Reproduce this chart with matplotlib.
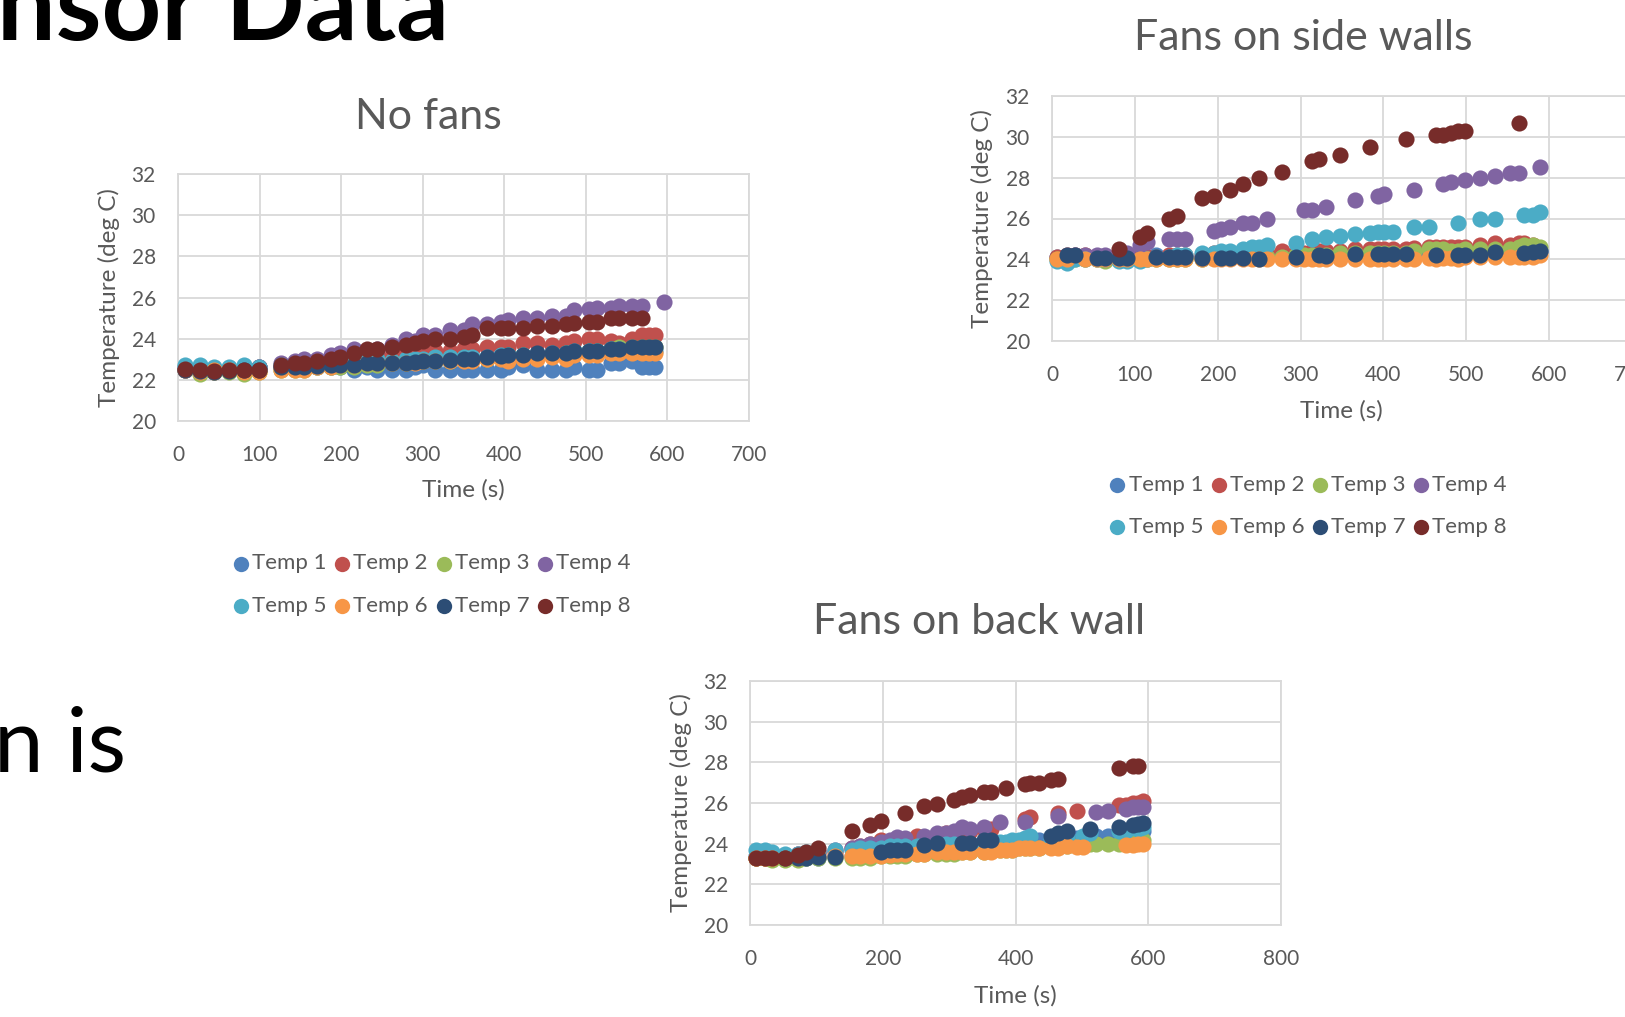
import numpy as np
import matplotlib
matplotlib.use('Agg')
from matplotlib import pyplot as plt

na = np.nan

names = ['Temp 1', 'Temp 2', 'Temp 3', 'Temp 4', 'Temp 5', 'Temp 6', 'Temp 7', 'Temp 8']
colors = ['#4F81BD', '#C0504D', '#9BBB59', '#8064A2', '#4BACC6', '#F79646', '#2C4D75', '#772C2A']

# ---------------- No fans ----------------
t_nofans = [8, 27, 44, 62, 81, 99, 126, 143, 154, 171, 188, 198, 216, 232, 244, 262, 280, 290, 300, 315,
            333, 350, 361, 379, 396, 404, 423, 440, 459, 476, 486, 504, 514, 531, 541, 557, 569, 578, 585, 596]
nofans_1 = [22.6, 22.6, 22.5, 22.5, 22.5, 22.6, 22.6, 22.6, 22.6, 22.6, 22.6, 22.6, 22.5, 22.6, 22.5, 22.5, 22.5, 22.6, 22.7, 22.5,
            22.5, 22.5, 22.5, 22.5, 22.5, 22.6, 22.7, 22.5, 22.5, 22.5, 22.6, 22.5, 22.5, 22.8, 22.8, 22.9, 22.6, 22.6, 22.6, na]
nofans_2 = [22.5, 22.5, 22.4, 22.5, 22.5, 22.6, 22.6, 22.7, 22.7, 22.8, 22.9, 23.0, 23.0, 23.2, 23.2, 23.2, 23.3, 23.3, 23.3, 23.4,
            23.4, 23.5, 23.5, 23.6, 23.6, 23.6, 23.8, 23.8, 23.7, 23.8, 23.9, 24.0, 24.0, 23.9, 23.8, 24.0, 24.2, 24.2, 24.2, na]
nofans_3 = [22.5, 22.3, 22.4, 22.4, 22.3, 22.4, 22.5, 22.5, 22.5, 22.6, 22.6, 22.6, 22.6, 22.7, 22.7, 22.8, 22.8, 22.9, 22.9, 22.9,
            22.9, 23.0, 23.0, 23.0, 23.1, 23.2, 23.2, 23.2, 23.2, 23.3, 23.3, 23.4, 23.4, 23.5, 23.6, 23.6, 23.6, 23.6, 23.6, na]
nofans_4 = [22.5, 22.5, 22.5, 22.5, 22.5, 22.6, 22.8, 22.9, 23.0, 23.0, 23.2, 23.3, 23.5, 23.4, 23.5, 23.7, 24.0, 23.9, 24.2, 24.2,
            24.4, 24.4, 24.7, 24.7, 24.8, 24.9, 25.0, 25.0, 25.1, 25.1, 25.4, 25.45, 25.5, 25.5, 25.6, 25.6, 25.6, na, na, 25.8]
nofans_5 = [22.7, 22.7, 22.6, 22.6, 22.7, 22.6, 22.7, 22.7, 22.7, 22.7, 22.8, 22.8, 22.9, 23.0, 23.0, 22.9, 23.0, 23.0, 23.0, 23.1,
            23.1, 23.1, 23.1, 23.1, 23.2, 23.2, 23.2, 23.2, 23.3, 23.3, 23.4, 23.4, 23.4, 23.5, 23.5, 23.5, 23.5, 23.4, 23.4, na]
nofans_6 = [22.5, 22.4, 22.5, 22.5, 22.4, 22.4, 22.5, 22.5, 22.5, 22.6, 22.6, 22.7, 22.7, 22.8, 22.8, 22.8, 22.8, 22.8, 22.9, 22.9,
            22.9, 22.9, 22.9, 23.0, 23.0, 22.9, 23.0, 23.0, 23.1, 23.0, 23.2, 23.2, 23.2, 23.3, 23.3, 23.3, 23.3, 23.3, 23.3, na]
nofans_7 = [22.5, 22.45, 22.4, 22.45, 22.5, 22.5, 22.6, 22.6, 22.6, 22.65, 22.7, 22.7, 22.7, 22.8, 22.8, 22.8, 22.8, 22.85, 22.9, 22.9,
            22.95, 23.0, 23.0, 23.1, 23.15, 23.2, 23.2, 23.3, 23.3, 23.3, 23.4, 23.4, 23.4, 23.5, 23.5, 23.6, 23.6, 23.6, 23.6, na]
nofans_8 = [22.55, 22.5, 22.45, 22.5, 22.5, 22.5, 22.7, 22.8, 22.8, 22.9, 23.0, 23.1, 23.3, 23.5, 23.5, 23.6, 23.7, 23.8, 23.9, 24.0,
            24.0, 24.1, 24.2, 24.5, 24.5, 24.5, 24.5, 24.6, 24.6, 24.7, 24.75, 24.8, 24.8, 25.0, 25.0, 25.0, 25.0, na, na, na]

# ---------------- Fans on side walls ----------------
t_side = [6, 18, 28, 40, 54, 64, 81, 90, 106, 115, 125, 141, 151, 160, 181, 195, 204, 215, 231, 241, 250, 259, 278, 295, 304,
          314, 322, 331, 347, 366, 384, 394, 401, 411, 427, 437, 455, 464, 472, 481, 490, 499, 517, 535, 553, 564, 570, 580, 589]
side_1 = [24.1, 24.1, 24.1, 24.1, 24.1, 24.1, 24.1, 24.1, 24.1, 24.1, 24.2, 24.1, 24.1, 24.1, 24.1, 24.1, 24.1, 24.1, 24.1, 24.1, 24.1, 24.1, 24.2, 24.2, 24.2,
          24.2, 24.2, 24.2, 24.2, 24.2, 24.2, 24.2, 24.2, 24.2, 24.3, 24.3, 24.3, 24.3, 24.3, 24.3, 24.3, 24.3, 24.3, 24.3, 24.4, 24.4, 24.4, 24.4, 24.4]
side_2 = [24.1, 24.2, 24.2, 24.2, 24.1, 24.1, 24.1, 24.1, 24.1, 24.1, 24.1, 24.2, 24.2, 24.2, 24.2, 24.3, 24.3, 24.3, 24.3, 24.3, 24.4, 24.3, 24.4, 24.3, 24.3,
          24.4, 24.4, 24.4, 24.4, 24.5, 24.5, 24.5, 24.5, 24.5, 24.5, 24.55, 24.6, 24.6, 24.6, 24.6, 24.6, 24.6, 24.7, 24.8, 24.7, 24.8, 24.8, 24.7, na]
side_3 = [24.0, 24.0, 24.0, 24.0, 24.0, 23.9, 24.0, 24.0, 24.0, 24.0, 24.0, 24.0, 24.0, 24.0, 24.0, 24.1, 24.1, 24.1, 24.1, 24.1, 24.1, 24.1, 24.1, 24.2, 24.2,
          24.2, 24.2, 24.2, 24.3, 24.3, 24.3, 24.3, 24.3, 24.3, 24.3, 24.4, 24.5, 24.5, 24.5, 24.4, 24.4, 24.5, 24.5, 24.5, 24.5, 24.6, 24.7, 24.7, 24.6]
side_4 = [na, na, 24.2, 24.2, 24.2, 24.2, 24.2, 24.3, 24.7, 24.85, na, 25.0, 25.0, 25.0, na, 25.4, 25.5, 25.6, 25.8, 25.8, na, 26.0, na, na, 26.4,
          26.4, na, 26.55, na, 26.9, na, 27.1, 27.2, na, na, 27.4, na, na, 27.7, 27.8, na, 27.9, 28.0, 28.1, 28.25, 28.25, na, na, 28.5]
side_5 = [23.9, 23.8, 24.0, 24.0, 24.0, 24.0, 23.9, 23.9, 23.9, 24.0, 24.1, 24.1, 24.2, 24.2, 24.3, 24.3, 24.4, 24.4, 24.5, 24.6, 24.6, 24.7, na, 24.8, na,
          25.0, na, 25.1, 25.15, 25.25, 25.3, 25.35, 25.35, 25.35, na, 25.6, 25.6, na, na, na, 25.8, na, 26.0, 26.0, na, na, 26.15, 26.15, 26.3]
side_6 = [24.0, 24.0, na, 24.0, 24.0, 24.0, 24.0, 24.0, 24.0, 24.0, 24.0, 24.0, 24.0, 24.0, 24.0, 24.0, 24.0, 24.0, 24.0, 24.0, 24.0, 24.0, 24.0, 24.0, 24.0,
          24.0, 24.0, 24.0, 24.0, 24.0, 24.0, 24.0, 24.0, 24.0, 24.0, 24.0, 24.05, 24.0, 24.05, 24.05, 24.0, 24.1, 24.1, 24.1, 24.1, 24.1, 24.1, 24.1, 24.2]
side_7 = [na, 24.2, 24.2, na, 24.05, 24.05, 24.05, 24.05, na, na, 24.1, 24.1, 24.1, 24.1, 24.05, na, 24.05, 24.05, 24.05, na, 24.0, na, na, 24.1, na,
          na, 24.2, 24.15, na, 24.25, na, 24.25, 24.25, 24.25, 24.25, na, na, 24.2, na, na, 24.2, 24.2, 24.2, 24.35, na, na, 24.3, 24.35, 24.4]
side_8 = [na, na, na, na, na, na, 24.5, na, 25.1, 25.3, na, 26.0, 26.1, na, 27.0, 27.1, na, 27.4, 27.7, na, 28.0, na, 28.3, na, na,
          28.8, 28.9, na, 29.1, na, 29.5, na, na, na, 29.9, na, na, 30.1, 30.1, 30.2, 30.3, 30.3, na, na, na, 30.7, na, na, na]

# ---------------- Fans on back wall ----------------
t_back = [9, 22, 33, 52, 72, 84, 102, 128, 153, 166, 181, 198, 211, 221, 234, 251, 262, 281, 296, 308, 320, 331,
          352, 363, 376, 386, 395, 406, 414, 422, 436, 453, 464, 478, 492, 501, 512, 522, 539, 556, 567, 577, 584, 592]
back_1 = [23.4, 23.4, 23.3, 23.3, 23.3, 23.3, 23.3, 23.4, 23.4, 23.5, 23.5, 23.5, 23.5, 23.6, 23.6, 23.7, 23.7, 23.7, 23.8, 23.8, 23.8, 23.9,
          23.9, 23.9, 24.0, 24.0, 24.0, 24.1, 24.1, 24.1, 24.2, 24.2, 24.2, 24.3, 24.3, 24.3, 24.3, 24.4, 24.4, 24.4, 24.4, 24.5, 24.5, 24.6]
back_2 = [23.3, 23.3, 23.4, 23.4, 23.5, 23.5, 23.6, 23.6, 23.8, 23.9, 24.0, 24.2, 24.1, 24.2, 24.2, 24.4, 24.3, 24.4, 24.5, 24.5, 24.6, 24.6,
          24.7, 24.7, na, na, na, na, 25.2, 25.3, na, na, 25.5, na, 25.6, na, na, na, na, 25.9, 25.9, 26.0, 26.0, 26.1]
back_3 = [23.3, 23.3, 23.2, 23.2, 23.2, 23.3, 23.3, 23.3, 23.3, 23.3, 23.3, 23.4, 23.4, 23.4, 23.4, 23.5, 23.5, 23.5, 23.5, 23.5, 23.6, 23.6,
          23.6, 23.7, 23.7, 23.7, 23.7, 23.8, 23.8, 23.8, 23.8, 23.9, 23.9, 23.9, 23.9, 24.0, 24.0, 24.0, 24.0, 24.0, 24.0, 24.1, 24.1, 24.2]
back_4 = [na, na, na, 23.4, 23.5, 23.5, 23.6, 23.7, 23.8, 23.9, 24.0, 24.1, 24.2, 24.35, 24.3, na, 24.4, 24.5, 24.5, 24.6, 24.8, 24.7,
          24.8, na, 25.05, na, na, na, 25.05, na, na, na, 25.35, na, na, na, na, 25.55, 25.6, na, 25.7, 25.8, 25.8, 25.8]
back_5 = [23.7, 23.7, 23.6, 23.5, 23.5, 23.6, 23.6, 23.7, 23.7, 23.8, 23.8, 23.8, 23.9, 23.9, 23.9, 23.9, 23.9, 23.95, 24.0, 24.0, 24.0, 24.0,
          24.0, 24.0, 24.1, 24.1, 24.2, 24.2, 24.3, 24.4, na, 24.3, 24.4, 24.4, na, 24.4, 24.5, na, na, 24.6, 24.6, 24.8, 24.7, 24.8]
back_6 = [23.3, 23.3, 23.3, 23.3, 23.3, 23.35, 23.4, 23.4, 23.4, 23.4, 23.4, 23.4, 23.45, 23.5, 23.5, 23.5, 23.5, 23.6, 23.6, 23.6, 23.6, 23.6,
          23.6, 23.6, 23.7, 23.7, 23.7, 23.8, 23.8, 23.8, 23.8, 23.8, 23.8, 23.9, 23.85, 23.85, na, na, na, na, 23.95, 23.95, 24.0, 24.0]
back_7 = [na, na, na, 23.3, 23.3, 23.3, 23.35, 23.35, na, na, na, 23.6, 23.7, 23.7, 23.7, na, 23.95, 24.05, na, na, 24.05, 24.05,
          24.2, 24.2, na, na, na, na, na, na, na, 24.4, 24.5, 24.6, na, na, 24.7, na, na, 24.8, na, 24.9, 24.95, 25.0]
back_8 = [23.3, 23.3, 23.3, 23.3, 23.45, 23.6, 23.8, na, 24.6, na, 24.9, 25.1, na, na, 25.5, na, 25.85, 25.95, na, 26.15, 26.3, 26.4,
          26.55, 26.55, na, 26.75, na, na, 26.95, 27.0, 27.0, 27.15, 27.2, na, na, na, na, na, na, 27.7, na, 27.8, 27.8, na]

nofans = [nofans_1, nofans_2, nofans_3, nofans_4, nofans_5, nofans_6, nofans_7, nofans_8]
side = [side_1, side_2, side_3, side_4, side_5, side_6, side_7, side_8]
back = [back_1, back_2, back_3, back_4, back_5, back_6, back_7, back_8]

plt.rcParams['font.family'] = ['Lato', 'DejaVu Sans']
txt = '#595959'
grid = '#D9D9D9'

fig = plt.figure(figsize=(16.25, 10.17), dpi=100)

# slide text behind the charts (cut off at the slide edge, as in the screenshot)
fig.text(-0.002, 1 - 40 / 1017, 'nsor Data', fontsize=75, fontweight='bold', color='black', va='baseline')
fig.text(-0.004, 1 - 772 / 1017, 'n is', fontsize=64, color='black', va='baseline')


def make_chart(rect, t, series, xmax, xstep, title, title_x, title_y, xl_y, yl_x, leg_xy=None):
    ax = fig.add_axes(rect)
    for i in range(len(series)):
        ax.scatter(t, series[i], s=135, color=colors[i], linewidths=0, label=names[i], zorder=3, clip_on=False)
    ax.set_xlim(0, xmax)
    ax.set_ylim(20, 32)
    ax.set_xticks(np.arange(0, xmax + 1, xstep))
    ax.set_yticks(np.arange(20, 33, 2))
    ax.grid(True, color=grid, linewidth=1.3, zorder=0)
    ax.set_axisbelow(True)
    for s in ax.spines.values():
        s.set_color(grid)
        s.set_linewidth(1.3)
    ax.tick_params(length=0, labelsize=15, labelcolor=txt)
    ax.tick_params(axis='x', pad=17)
    ax.tick_params(axis='y', pad=16)
    ax.text(title_x, title_y, title, transform=ax.transAxes, ha='center', va='center', fontsize=31, color=txt)
    ax.text(0.499, xl_y, 'Time (s)', transform=ax.transAxes, ha='center', va='center', fontsize=17.5, color=txt)
    ax.text(yl_x, 0.5, 'Temperature (deg C)', transform=ax.transAxes, ha='center', va='center',
            rotation=90, fontsize=17.5, color=txt)
    if leg_xy is not None:
        # legend fills rows: Temp 1-4 on top, Temp 5-8 below
        h, l = ax.get_legend_handles_labels()
        order = [0, 4, 1, 5, 2, 6, 3, 7]
        ax.legend([h[k] for k in order], [l[k] for k in order], loc='center', bbox_to_anchor=leg_xy,
                  ncol=4, frameon=False, fontsize=16, labelcolor=txt, handletextpad=0.05,
                  columnspacing=0.25, labelspacing=1.0, handlelength=0.9, borderaxespad=0, markerscale=0.95)
    return ax


make_chart([178 / 1625, 1 - 421 / 1017, 571 / 1625, 247 / 1017], t_nofans, nofans, 700, 100,
           'No fans', 0.438, 1.232, -0.279, -0.121, leg_xy=(0.443, -0.662))
make_chart([1052 / 1625, 1 - 341 / 1017, 580 / 1625, 245 / 1017], t_side, side, 700, 100,
           'Fans on side walls', 0.434, 1.236, -0.286, -0.121, leg_xy=(0.44, -0.672))
make_chart([750 / 1625, 1 - 925 / 1017, 531 / 1625, 244 / 1017], t_back, back, 800, 200,
           'Fans on back wall', 0.431, 1.24, -0.291, -0.130)

fig.savefig('out.png', dpi=100)
